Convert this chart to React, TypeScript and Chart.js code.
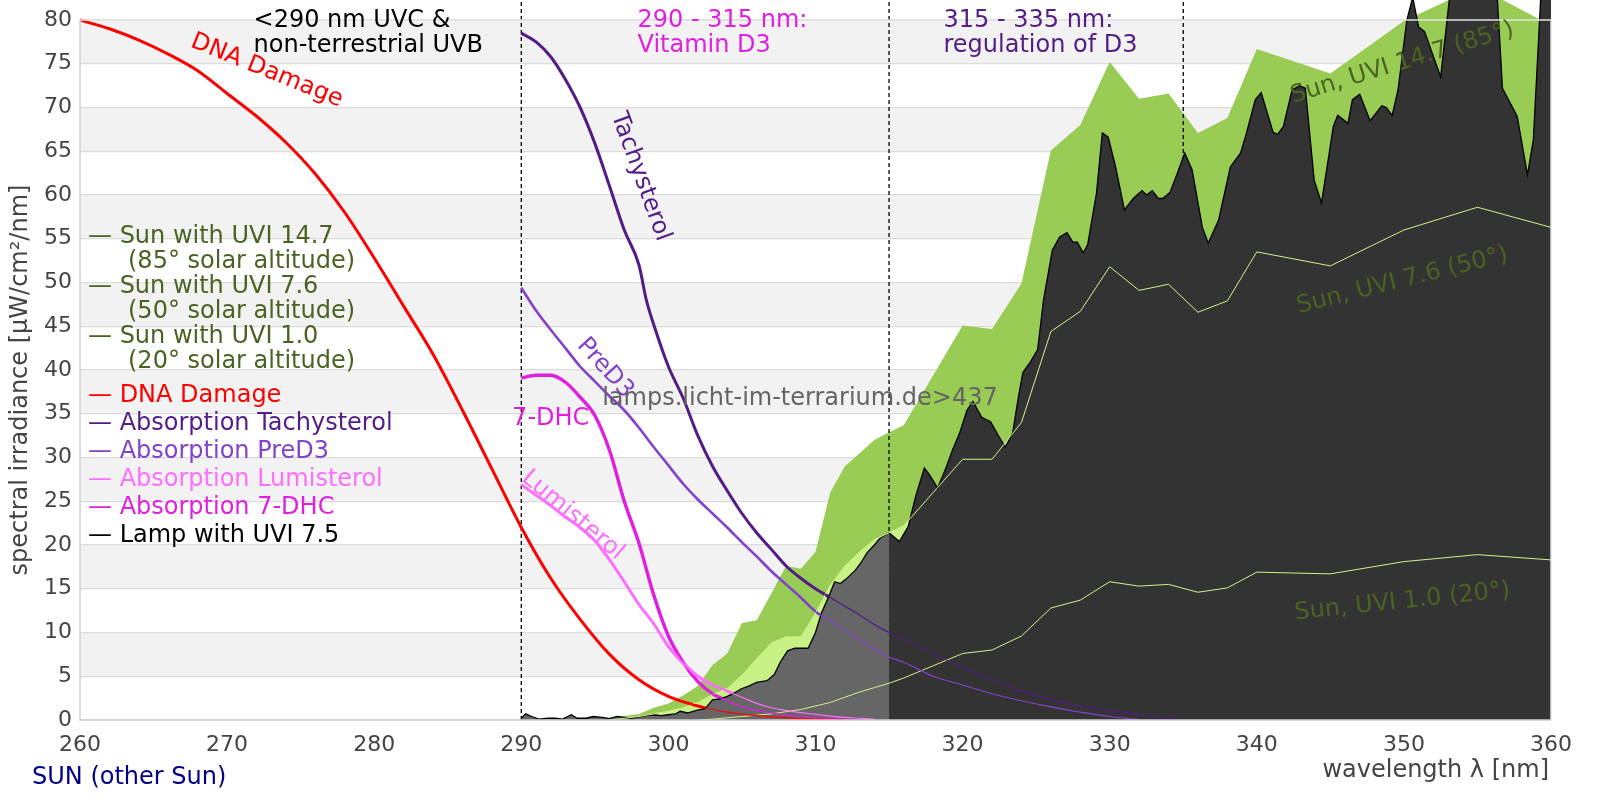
import React, { useEffect, useRef } from "react";
import { Chart, registerables } from "chart.js";

Chart.register(...registerables);
Chart.defaults.font.family = "'DejaVu Sans', sans-serif";

// value at the very top edge of the canvas (80 sits 20px below it)
const Y_TOP = 80 + 20 / 8.75;

const regionBounds = [290, 315, 335];

const dnaWl = [260, 262, 264, 266, 268, 270, 272, 274, 276, 278, 280, 282, 284, 286, 288, 290, 292, 294, 296, 298, 300, 302, 304, 306, 308, 310, 312];
const dnaVal = [80.0, 79.0, 77.7, 76.1, 74.2, 71.6, 69.0, 66.0, 62.4, 58.0, 52.8, 47.3, 41.8, 35.4, 28.7, 22.0, 16.2, 11.5, 7.5, 4.6, 2.7, 1.6, 0.9, 0.5, 0.25, 0.1, 0.03];

const tachyWl = [290, 291, 292, 293, 294, 295, 296, 297, 298, 298.5, 299, 300, 301, 302, 303, 304, 305, 306, 307, 308, 309, 310, 311, 312, 313, 314, 315, 316, 318, 320, 322, 324, 326, 328, 330, 332, 334, 335];
const tachyVal = [78.5, 77.5, 75.8, 73.2, 70.0, 65.9, 61.0, 56.0, 52.0, 48.0, 45.2, 40.4, 36.8, 32.5, 29.0, 26.2, 23.6, 21.4, 19.5, 17.6, 16.2, 15.0, 14.0, 13.0, 12.0, 10.9, 10.0, 9.2, 7.6, 6.0, 4.6, 3.3, 2.3, 1.6, 1.1, 0.6, 0.2, 0];

const preWl = [290, 291, 292, 293, 294, 295, 296, 297, 298, 299, 300, 301, 302, 303, 304, 305, 306, 307, 308, 309, 310, 311, 312, 313, 314, 315, 316, 318, 320, 322, 324, 326, 328, 330, 332];
const preVal = [49.4, 46.8, 44.6, 42.5, 40.4, 38.7, 37.0, 35.4, 33.4, 31.2, 29.1, 27.0, 25.2, 23.6, 22.0, 20.3, 18.7, 17.0, 15.5, 14.0, 12.4, 11.3, 10.2, 9.2, 8.1, 7.2, 6.6, 5.0, 4.0, 3.0, 2.2, 1.5, 0.9, 0.4, 0.05];

const lumiWl = [290, 291, 292, 293, 294, 295, 296, 297, 298, 299, 300, 301, 302, 303, 304, 305, 306, 307, 308, 309, 310, 311, 312, 313, 314];
const lumiVal = [26.9, 25.7, 24.5, 23.2, 22.0, 20.5, 18.3, 15.8, 13.2, 11.0, 8.4, 6.5, 5.0, 4.0, 3.3, 2.6, 1.9, 1.4, 1.1, 0.85, 0.65, 0.45, 0.3, 0.2, 0.1];

const dhcWl = [290, 291, 292, 293, 294, 295, 296, 297, 298, 299, 300, 301, 302, 303, 304, 305, 306, 307, 308, 309, 310, 311, 312, 313];
const dhcVal = [39.1, 39.4, 39.4, 38.6, 36.9, 34.8, 30.8, 25.0, 20.2, 14.3, 9.6, 6.6, 4.4, 3.0, 2.2, 1.5, 1.1, 0.8, 0.55, 0.4, 0.25, 0.15, 0.08, 0.03];

const sun147Wl = [293, 295, 296, 297, 298, 299, 300, 301, 302, 303, 304, 305, 306, 307, 308, 309, 310, 311, 312, 313, 314, 315, 316, 320, 322, 324, 326, 328, 330, 332, 334, 336, 338, 340, 345, 350, 355, 360];
const sun147Val = [0, 0.1, 0.25, 0.45, 0.7, 1.4, 1.9, 2.8, 3.9, 6.3, 7.6, 11.1, 11.4, 14.5, 17.6, 17.3, 19.2, 26.0, 29.0, 30.5, 32.0, 32.9, 33.7, 45.1, 44.7, 49.9, 65.1, 68.0, 75.2, 71.0, 71.6, 67.1, 68.8, 76.7, 73.9, 79.9, 83.8, 79.4];

const sun76Wl = [296, 297, 298, 299, 300, 301, 302, 303, 304, 305, 306, 307, 308, 309, 310, 311, 312, 313, 314, 315, 316, 320, 322, 324, 326, 328, 330, 332, 334, 336, 338, 340, 345, 350, 355, 360];
const sun76Val = [0, 0.2, 0.4, 0.7, 1.0, 1.4, 2.0, 2.9, 3.6, 5.1, 7.0, 8.8, 9.5, 9.5, 12.2, 15.4, 17.6, 19.2, 20.6, 21.4, 22.2, 29.8, 29.8, 34.0, 44.4, 46.7, 51.8, 49.1, 49.8, 46.6, 47.9, 53.5, 51.9, 56.0, 58.6, 56.3];

const sun10Wl = [302, 303, 304, 305, 306, 307, 308, 309, 310, 311, 312, 313, 314, 315, 316, 318, 320, 322, 324, 326, 328, 330, 332, 334, 336, 338, 340, 345, 350, 355, 360];
const sun10Val = [0, 0.1, 0.25, 0.4, 0.55, 0.7, 0.95, 1.2, 1.6, 2.0, 2.6, 3.2, 3.7, 4.2, 4.8, 6.2, 7.6, 8.0, 9.6, 12.8, 13.7, 15.8, 15.3, 15.5, 14.6, 15.1, 16.9, 16.7, 18.1, 18.9, 18.3];

const lampWl = [290.0, 290.3, 290.7, 291.2, 291.8, 292.3, 292.8, 293.4, 293.8, 294.4, 294.9, 295.5, 296.0, 296.5, 297.0, 297.5, 298.0, 298.5, 299.0, 299.5, 300.0, 300.5, 300.8, 301.3, 301.9, 302.5, 303.0, 303.5, 304.0, 304.5, 305.0, 305.5, 306.0, 306.7, 307.2, 307.6, 308.1, 308.6, 309.5, 310.0, 310.4, 310.9, 311.3, 311.7, 312.2, 312.7, 313.1, 313.5, 314.0, 314.4, 315.0, 315.7, 316.3, 316.8, 317.4, 317.8, 318.3, 318.8, 319.3, 319.8, 320.3, 320.7, 321.3, 321.9, 322.4, 322.9, 323.4, 323.8, 324.1, 324.6, 325.1, 325.5, 326.1, 326.6, 327.1, 327.5, 327.8, 328.2, 328.5, 329.1, 329.5, 329.9, 330.4, 331.0, 331.6, 332.2, 332.5, 332.9, 333.3, 333.6, 334.1, 334.6, 335.1, 335.6, 336.3, 336.7, 337.4, 338.2, 338.9, 339.3, 339.9, 340.3, 341.1, 341.4, 341.8, 342.4, 342.9, 343.3, 343.9, 344.4, 345.2, 345.5, 346.2, 346.5, 347.0, 347.7, 348.5, 348.8, 349.2, 349.6, 350.2, 350.6, 351.0, 351.4, 352.5, 353.1, 353.6, 355.0, 356.3, 356.7, 357.7, 358.4, 358.8, 359.3, 359.6, 360.0];
const lampVal = [0.2, 0.7, 0.4, 0.1, 0.2, 0.2, 0.1, 0.6, 0.2, 0.2, 0.4, 0.3, 0.15, 0.4, 0.3, 0.2, 0.35, 0.5, 0.6, 0.5, 0.6, 0.7, 1.0, 0.8, 1.1, 1.3, 2.3, 2.4, 2.7, 3.1, 3.6, 3.9, 4.3, 4.5, 5.2, 6.6, 7.9, 8.2, 8.2, 10.0, 12.2, 14.1, 15.8, 15.6, 16.3, 17.1, 18.0, 19.1, 20.0, 20.8, 21.4, 20.4, 22.1, 25.5, 28.8, 27.9, 26.5, 28.5, 30.8, 32.8, 35.4, 36.4, 34.6, 34.1, 32.6, 31.2, 32.8, 37.0, 39.7, 40.9, 42.3, 48.0, 53.7, 55.2, 55.7, 54.6, 54.6, 53.4, 54.3, 60.2, 67.1, 66.6, 63.2, 58.3, 59.6, 60.5, 60.0, 60.5, 59.6, 59.6, 60.3, 62.5, 64.8, 62.9, 56.3, 54.5, 57.1, 63.2, 64.8, 67.1, 70.9, 71.7, 67.2, 66.9, 67.8, 72.0, 72.5, 72.2, 61.7, 59.1, 67.8, 69.1, 68.2, 70.9, 71.5, 68.5, 70.2, 70.0, 69.1, 72.0, 80.0, 82.6, 79.2, 78.7, 73.5, 82.5, 86, 87, 84, 72.2, 69.0, 62.3, 66.3, 82.5, 86, 86];

const RED = "#ff0000";
const TACHY = "#531c86";
const PRED3 = "#8442cc";
const LUMI = "#ff6eff";
const DHC = "#e01fe0";
const OLIVE = "#4b6322";
const SUN_LINE = "#d2f28c";

const curveLabels = [
  { text: "DNA Damage", x: 272.7, y: 74.2, angle: 22, color: RED },
  { text: "Tachysterol", x: 298.1, y: 62.1, angle: 70, color: TACHY },
  { text: "PreD3", x: 295.7, y: 40.2, angle: 48, color: PRED3 },
  { text: "7-DHC", x: 292.0, y: 34.4, angle: 0, color: DHC },
  { text: "Lumisterol", x: 293.5, y: 23.4, angle: 40, color: LUMI },
  { text: "Sun, UVI 14.7 (85°)", x: 349.9, y: 75.1, angle: -17, color: OLIVE },
  { text: "Sun, UVI 7.6 (50°)", x: 349.9, y: 50.2, angle: -14, color: OLIVE },
  { text: "Sun, UVI 1.0 (20°)", x: 349.9, y: 13.5, angle: -6, color: OLIVE },
];

const regionTitles = [
  { lines: ["<290 nm UVC &", "non-terrestrial UVB"], x: 271.8, color: "#000000" },
  { lines: ["290 - 315 nm:", "Vitamin D3"], x: 297.9, color: DHC },
  { lines: ["315 - 335 nm:", "regulation of D3"], x: 318.7, color: TACHY },
];

const sunLegend = [
  ["Sun with UVI 14.7", "(85° solar altitude)"],
  ["Sun with UVI 7.6", "(50° solar altitude)"],
  ["Sun with UVI 1.0", "(20° solar altitude)"],
];
const otherLegend = [
  { text: "DNA Damage", color: RED },
  { text: "Absorption Tachysterol", color: TACHY },
  { text: "Absorption PreD3", color: PRED3 },
  { text: "Absorption Lumisterol", color: LUMI },
  { text: "Absorption 7-DHC", color: DHC },
  { text: "Lamp with UVI 7.5", color: "#000000" },
];

const pts = (xs: number[], ys: number[]) => xs.map((x, i) => ({ x, y: ys[i] }));

function drawText(
  ctx: CanvasRenderingContext2D,
  s: string,
  x: number,
  y: number,
  color: string,
  size = 24,
  align: CanvasTextAlign = "left",
  baseline: CanvasTextBaseline = "alphabetic",
  angle = 0
) {
  ctx.save();
  ctx.translate(x, y);
  if (angle) ctx.rotate((angle * Math.PI) / 180);
  ctx.font = `${size}px 'DejaVu Sans'`;
  ctx.fillStyle = color;
  ctx.textAlign = align;
  ctx.textBaseline = baseline;
  ctx.fillText(s, 0, 0);
  ctx.restore();
}

const decor = {
  id: "decor",
  beforeDraw(chart: any) {
    const { ctx, chartArea: a, scales } = chart;
    const y = scales.y;
    ctx.save();
    ctx.fillStyle = "#f2f2f2";
    for (let v = 5; v < 80; v += 10) {
      const t = y.getPixelForValue(v + 5);
      const b = y.getPixelForValue(v);
      ctx.fillRect(a.left, t, a.right - a.left, b - t);
    }
    ctx.restore();
  },
  afterDatasetsDraw(chart: any) {
    const { ctx, chartArea: a, scales } = chart;
    const x = scales.x;
    const y = scales.y;
    const top = y.getPixelForValue(80);
    const bottom = y.getPixelForValue(0);
    ctx.save();
    ctx.lineWidth = 1.5;
    ctx.strokeStyle = "#e2e2e2";
    ctx.beginPath();
    ctx.moveTo(a.left, top);
    ctx.lineTo(a.right, top);
    ctx.lineTo(a.right, bottom);
    ctx.stroke();
    ctx.strokeStyle = "#cfcfcf";
    ctx.beginPath();
    ctx.moveTo(a.left, top);
    ctx.lineTo(a.left, bottom);
    ctx.lineTo(a.right, bottom);
    ctx.stroke();
    ctx.restore();

    curveLabels.forEach((l) =>
      drawText(ctx, l.text, x.getPixelForValue(l.x), y.getPixelForValue(l.y), l.color, 24, "center", "middle", l.angle)
    );
    drawText(ctx, "lamps.licht-im-terrarium.de>437", x.getPixelForValue(295.5), y.getPixelForValue(36.0), "#646464");
  },
  afterDraw(chart: any) {
    const { ctx, chartArea: a, scales } = chart;
    const x = scales.x;
    const y = scales.y;
    regionTitles.forEach((r) => {
      r.lines.forEach((line, i) =>
        drawText(ctx, line, x.getPixelForValue(r.x), y.getPixelForValue(79.2) + i * 25, r.color)
      );
    });

    sunLegend.forEach((pair, i) => {
      const base = 243 + i * 50;
      drawText(ctx, "— " + pair[0], 88, base, OLIVE);
      drawText(ctx, pair[1], 128, base + 25, OLIVE);
    });
    otherLegend.forEach((item, i) => drawText(ctx, "— " + item.text, 88, 402 + i * 28, item.color));

    drawText(ctx, "spectral irradiance [μW/cm²/nm]", 21, 380, "#444444", 24, "center", "middle", -90);
    drawText(ctx, "wavelength λ [nm]", a.right - 2, 777, "#444444", 24, "right");
    drawText(ctx, "SUN (other Sun)", 32, 784, "#000088");
  },
};

const App: React.FC = () => {
  const canvasRef = useRef<HTMLCanvasElement | null>(null);

  useEffect(() => {
    if (!canvasRef.current) return;

    const thick = (data: any, color: string, width: number) => ({
      data,
      borderColor: color,
      borderWidth: width,
      fill: false,
      cubicInterpolationMode: "monotone",
      order: 4,
    });
    const thin = (data: any, color: string) => ({
      data,
      borderColor: color,
      borderWidth: 1.2,
      fill: false,
      cubicInterpolationMode: "monotone",
      order: 1,
    });

    const dna = pts(dnaWl, dnaVal);
    const tachy = pts(tachyWl, tachyVal);
    const pre = pts(preWl, preVal);
    const lumi = pts(lumiWl, lumiVal);
    const dhc = pts(dhcWl, dhcVal);
    const lamp = pts(lampWl, lampVal);
    const sun76 = pts(sun76Wl, sun76Val);

    const chart = new Chart(canvasRef.current, {
      type: "line",
      data: {
        datasets: [
          { data: pts(sun147Wl, sun147Val), backgroundColor: "#99cc55", borderWidth: 0, fill: "origin", order: 7 },
          { data: sun76, backgroundColor: "#c8f286", borderWidth: 0, fill: "origin", order: 6 },
          ...regionBounds.map((b) => ({
            data: [
              { x: b, y: 0 },
              { x: b, y: Y_TOP },
            ],
            borderColor: "#000000",
            borderWidth: 1.3,
            borderDash: [4, 3],
            fill: false,
            order: 5,
          })),
          thick(dna, RED, 3),
          thick(tachy, TACHY, 3),
          thick(pre, PRED3, 2.6),
          thick(lumi, LUMI, 3),
          thick(dhc, DHC, 3.4),
          {
            data: lamp.filter((p) => p.x <= 315),
            backgroundColor: "#666666",
            borderColor: "#000000",
            borderWidth: 1.3,
            fill: "origin",
            order: 3,
          },
          {
            data: lamp.filter((p) => p.x >= 315),
            backgroundColor: "#333333",
            borderColor: "#000000",
            borderWidth: 1.3,
            fill: "origin",
            order: 3,
          },
          { data: sun76, borderColor: SUN_LINE, borderWidth: 1, fill: false, order: 2 },
          { data: pts(sun10Wl, sun10Val), borderColor: SUN_LINE, borderWidth: 1, fill: false, order: 2 },
          thin(dna, RED),
          thin(tachy, TACHY),
          thin(pre, PRED3),
          thin(lumi, LUMI),
          thin(dhc, DHC),
        ],
      },
      options: {
        animation: false,
        responsive: true,
        maintainAspectRatio: false,
        layout: { padding: { top: 0, right: 49, left: 0, bottom: 0 } },
        elements: { point: { radius: 0 }, line: { tension: 0 } },
        plugins: { legend: { display: false }, tooltip: { enabled: false } },
        scales: {
          x: {
            type: "linear",
            min: 260,
            max: 360,
            afterFit: (s: any) => {
              s.height = 80;
              s.paddingLeft = 0;
              s.paddingRight = 0;
            },
            grid: { display: false },
            border: { display: false },
            ticks: { stepSize: 10, color: "#444444", font: { size: 22 }, padding: 4, maxRotation: 0 },
          },
          y: {
            min: 0,
            max: Y_TOP,
            afterFit: (s: any) => {
              s.width = 80;
              s.paddingTop = 0;
              s.paddingBottom = 0;
            },
            grid: { color: "#dcdcdc", lineWidth: 1.3, drawTicks: false },
            border: { display: false },
            ticks: { stepSize: 5, includeBounds: false, color: "#444444", font: { size: 22 }, padding: 8 },
          },
        },
      },
      plugins: [decor],
    } as any);

    return () => {
      chart.destroy();
    };
  }, []);

  return (
    <div style={{ position: "fixed", left: 0, top: 0, width: 1600, height: 800, background: "#ffffff" }}>
      <canvas ref={canvasRef}></canvas>
    </div>
  );
};

export default App;
